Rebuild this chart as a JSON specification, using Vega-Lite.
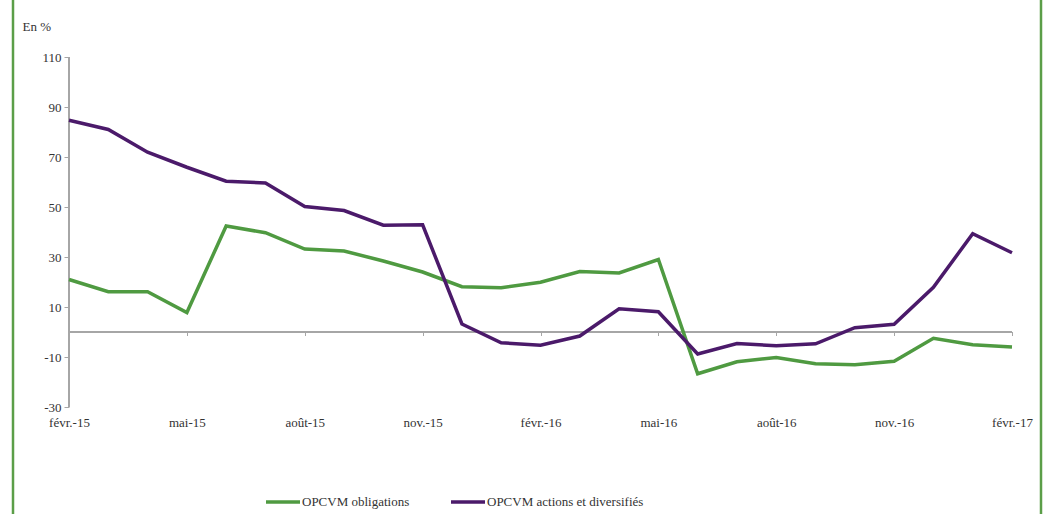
{
  "$schema": "https://vega.github.io/schema/vega-lite/v6.json",
  "width": 1028,
  "height": 522,
  "autosize": {"type": "none"},
  "padding": {"left": 13, "top": -4, "right": 15, "bottom": -4},
  "background": "white",
  "config": {
    "view": {"stroke": "#5b9e48", "strokeWidth": 2.5},
    "font": "Times New Roman",
    "axis": {"labelFont": "Times New Roman", "labelFontSize": 13, "labelColor": "#333333", "titleFont": "Times New Roman", "titleColor": "#333333", "grid": false},
    "legend": {"labelFont": "Times New Roman", "labelFontSize": 13, "labelColor": "#333333"}
  },
  "data": {
    "values": [
      {"month": "févr.-15", "series": "OPCVM obligations", "value": 21.0},
      {"month": "mars-15", "series": "OPCVM obligations", "value": 16.1},
      {"month": "avr.-15", "series": "OPCVM obligations", "value": 16.1},
      {"month": "mai-15", "series": "OPCVM obligations", "value": 7.8},
      {"month": "juin-15", "series": "OPCVM obligations", "value": 42.4},
      {"month": "juil.-15", "series": "OPCVM obligations", "value": 39.7},
      {"month": "août-15", "series": "OPCVM obligations", "value": 33.2},
      {"month": "sept.-15", "series": "OPCVM obligations", "value": 32.4},
      {"month": "oct.-15", "series": "OPCVM obligations", "value": 28.4},
      {"month": "nov.-15", "series": "OPCVM obligations", "value": 24.0},
      {"month": "déc.-15", "series": "OPCVM obligations", "value": 18.1},
      {"month": "janv.-16", "series": "OPCVM obligations", "value": 17.7},
      {"month": "févr.-16", "series": "OPCVM obligations", "value": 19.9},
      {"month": "mars-16", "series": "OPCVM obligations", "value": 24.2},
      {"month": "avr.-16", "series": "OPCVM obligations", "value": 23.6},
      {"month": "mai-16", "series": "OPCVM obligations", "value": 29.0},
      {"month": "juin-16", "series": "OPCVM obligations", "value": -16.7},
      {"month": "juil.-16", "series": "OPCVM obligations", "value": -11.9},
      {"month": "août-16", "series": "OPCVM obligations", "value": -10.2},
      {"month": "sept.-16", "series": "OPCVM obligations", "value": -12.7},
      {"month": "oct.-16", "series": "OPCVM obligations", "value": -13.1},
      {"month": "nov.-16", "series": "OPCVM obligations", "value": -11.7},
      {"month": "déc.-16", "series": "OPCVM obligations", "value": -2.5},
      {"month": "janv.-17", "series": "OPCVM obligations", "value": -5.1},
      {"month": "févr.-17", "series": "OPCVM obligations", "value": -6.0},
      {"month": "févr.-15", "series": "OPCVM actions et diversifiés", "value": 84.7},
      {"month": "mars-15", "series": "OPCVM actions et diversifiés", "value": 81.0},
      {"month": "avr.-15", "series": "OPCVM actions et diversifiés", "value": 71.9},
      {"month": "mai-15", "series": "OPCVM actions et diversifiés", "value": 65.9},
      {"month": "juin-15", "series": "OPCVM actions et diversifiés", "value": 60.3},
      {"month": "juil.-15", "series": "OPCVM actions et diversifiés", "value": 59.6},
      {"month": "août-15", "series": "OPCVM actions et diversifiés", "value": 50.2},
      {"month": "sept.-15", "series": "OPCVM actions et diversifiés", "value": 48.6},
      {"month": "oct.-15", "series": "OPCVM actions et diversifiés", "value": 42.7},
      {"month": "nov.-15", "series": "OPCVM actions et diversifiés", "value": 42.9},
      {"month": "déc.-15", "series": "OPCVM actions et diversifiés", "value": 3.2},
      {"month": "janv.-16", "series": "OPCVM actions et diversifiés", "value": -4.3},
      {"month": "févr.-16", "series": "OPCVM actions et diversifiés", "value": -5.3},
      {"month": "mars-16", "series": "OPCVM actions et diversifiés", "value": -1.6},
      {"month": "avr.-16", "series": "OPCVM actions et diversifiés", "value": 9.3},
      {"month": "mai-16", "series": "OPCVM actions et diversifiés", "value": 8.1},
      {"month": "juin-16", "series": "OPCVM actions et diversifiés", "value": -8.8},
      {"month": "juil.-16", "series": "OPCVM actions et diversifiés", "value": -4.6},
      {"month": "août-16", "series": "OPCVM actions et diversifiés", "value": -5.5},
      {"month": "sept.-16", "series": "OPCVM actions et diversifiés", "value": -4.7},
      {"month": "oct.-16", "series": "OPCVM actions et diversifiés", "value": 1.7},
      {"month": "nov.-16", "series": "OPCVM actions et diversifiés", "value": 3.1},
      {"month": "déc.-16", "series": "OPCVM actions et diversifiés", "value": 17.9},
      {"month": "janv.-17", "series": "OPCVM actions et diversifiés", "value": 39.3},
      {"month": "févr.-17", "series": "OPCVM actions et diversifiés", "value": 31.7}
    ]
  },
  "resolve": {"axis": {"x": "independent", "y": "independent"}},
  "layer": [
    {
      "mark": {"type": "rule", "color": "#a6a6a6", "strokeWidth": 1.5},
      "encoding": {
        "x": {"datum": "févr.-15", "type": "ordinal", "axis": null},
        "y": {"datum": -30, "type": "quantitative", "axis": null},
        "y2": {"datum": 110}
      }
    },
    {
      "mark": {"type": "rule", "color": "#a6a6a6", "strokeWidth": 1.5},
      "encoding": {
        "x": {"datum": "févr.-15", "type": "ordinal", "axis": {"orient": "bottom", "offset": -186.5, "values": ["févr.-15", "mai-15", "août-15", "nov.-15", "févr.-16", "mai-16", "août-16", "nov.-16", "févr.-17"], "labels": false, "domain": false, "ticks": true, "tickSize": 4, "tickColor": "#a6a6a6", "tickWidth": 1, "title": null}},
        "x2": {"datum": "févr.-17"},
        "y": {"datum": 0, "type": "quantitative", "axis": null}
      }
    },
    {
      "mark": {"type": "line", "strokeWidth": 3.5},
      "encoding": {
        "x": {
          "field": "month", "type": "ordinal", "sort": null,
          "scale": {"type": "point", "padding": 0, "range": [56, 999], "domain": ["févr.-15", "mars-15", "avr.-15", "mai-15", "juin-15", "juil.-15", "août-15", "sept.-15", "oct.-15", "nov.-15", "déc.-15", "janv.-16", "févr.-16", "mars-16", "avr.-16", "mai-16", "juin-16", "juil.-16", "août-16", "sept.-16", "oct.-16", "nov.-16", "déc.-16", "janv.-17", "févr.-17"]},
          "axis": {"orient": "bottom", "offset": -111, "values": ["févr.-15", "mai-15", "août-15", "nov.-15", "févr.-16", "mai-16", "août-16", "nov.-16", "févr.-17"], "labelAngle": 0, "labelPadding": 9, "labelFont": "Times New Roman", "domain": false, "ticks": false, "title": null}
        },
        "y": {
          "field": "value", "type": "quantitative",
          "scale": {"domain": [-30, 110], "range": [411, 61], "nice": false, "zero": false},
          "axis": {"orient": "left", "offset": -56, "values": [-30, -10, 10, 30, 50, 70, 90, 110], "labelExpr": "'' + datum.value", "domain": false, "ticks": true, "tickSize": 5, "tickColor": "#a6a6a6", "labelPadding": 3, "labelFont": "Times New Roman", "title": "En %", "titleFont": "Times New Roman", "titleAngle": 0, "titleAlign": "left", "titleBaseline": "middle", "titleX": -47, "titleY": 30, "titleFontSize": 13, "titleFontWeight": "normal"}
        },
        "color": {
          "field": "series", "type": "nominal",
          "scale": {"domain": ["OPCVM obligations", "OPCVM actions et diversifiés"], "range": ["#4f9a41", "#4b1a6a"]},
          "legend": {"title": null, "orient": "none", "direction": "horizontal", "legendX": 251, "legendY": 487, "symbolType": "stroke", "symbolSize": 1156, "symbolStrokeWidth": 3.5, "labelOffset": 0, "labelFont": "Times New Roman", "columnPadding": 34, "padding": 0}
        }
      }
    }
  ]
}
